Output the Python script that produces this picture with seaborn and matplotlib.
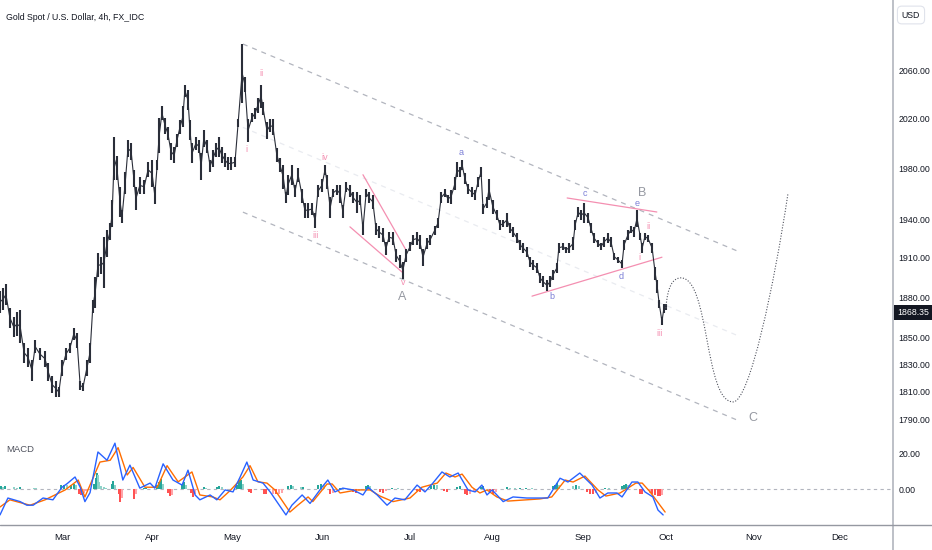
import numpy as np
import matplotlib
matplotlib.use("Agg")
import matplotlib.pyplot as plt
import seaborn as sns
from matplotlib.lines import Line2D
from matplotlib.path import Path
from matplotlib.patches import PathPatch
from matplotlib.ticker import NullLocator

# ---------------- data (x = trading-day index, 0 = 1 Feb 2023) ----------------
bar_day = [4.3,5.1,5.8,6.8,7.8,8.6,9.4,10.4,11.4,12.4,13.2,14.4,15.7,16.5,17.5,18.5,19.2,20.0,21.0,22.0,
           23.0,23.8,24.6,25.3,26.3,27.1,27.8,28.4,29.1,29.9,30.6,31.4,32.2,32.7,33.2,33.9,34.7,35.2,36.0,36.7,
           37.5,38.2,38.7,39.7,40.8,41.8,42.8,43.5,44.1,44.6,45.3,46.1,46.8,47.6,48.4,49.1,49.9,50.6,51.1,51.9,
           52.4,52.9,53.9,54.7,55.2,55.9,56.7,57.5,58.2,59.0,59.7,60.5,61.3,62.0,62.8,63.8,64.6,65.6,66.3,67.1,
           68.1,68.9,69.6,70.4,70.9,71.9,72.7,73.4,74.4,75.2,76.0,76.7,77.2,78.2,79.0,79.8,80.8,81.5,82.3,83.3,
           84.1,84.8,85.8,86.6,87.1,87.9,88.6,89.6,90.4,91.1,91.9,92.9,93.7,94.7,95.5,96.2,97.0,97.7,98.7,99.5,
           100.3,101.3,102.0,102.8,103.8,104.6,105.6,106.3,107.1,108.1,108.9,109.9,110.6,111.4,112.4,113.2,114.4,115.2,116.0,117.0,
           117.7,118.5,119.5,120.0,120.8,121.3,122.0,122.8,123.8,124.6,125.3,126.1,126.6,127.6,128.1,129.1,130.1,130.9,131.7,132.7,
           133.4,134.2,135.2,136.0,136.7,137.7,138.5,139.3,140.3,141.0,141.8,142.8,143.6,144.3,145.3,145.8,146.9,147.6,148.4,149.4,
           149.9,150.7,151.4,152.2,153.2,153.9,154.7,155.7,156.5,157.2,158.2,159.0,159.8,160.8,161.8,162.3,163.3,164.1,164.8,165.6,
           166.4,166.9,167.6,168.4,169.4,170.2,170.7,171.2,171.9,172.4,172.9]
bar_high = [1885,1887,1890,1872,1865,1868.5,1870,1846,1842,1833,1848,1842,1840,1831,1821,1818,1813,1833,1842,1846,
            1857,1853,1818,1816,1833,1846,1878,1895,1914,1911,1926,1931.5,1937,1955,2005,1990,1965,1947,1977,2003,
            2000,1979,1965,1973,1971,1985,1987,1965,1987,2021,2030,2021,2013,2000,1997,2008,2019,2030,2048,2043.5,
            2019,2000,2005,2003,1992,2011,2003,1987,1995,2000,2005,1997,1992,1989,1989,1989,2020,2082,2054,2020,
            2025,2029,2037,2048,2034,2017,2020,2020,1996,1988,1983,1961,1975,1983,1967,1980,1964,1953,1953,1953,
            1945,1967,1972,1983,1975,1957,1964,1967,1967,1951,1969,1967,1961,1961,1959,1937,1964,1961,1959,1937,
            1935,1933,1922,1930,1930,1917,1912,1907,1917,1922,1928,1930,1928,1917,1925,1928,1935,1941,1961,1964,
            1959,1963,1973,1985,1981,1987,1976,1968,1965,1963,1973,1981,1952,1957,1972,1955,1947,1939,1939,1945,
            1937,1934,1929,1924,1921.5,1918.5,1910.5,1908,1906,1898.5,1896,1893,1896,1901,1906,1921.5,1921.5,1918.5,1921.5,1926,
            1939,1949.5,1947,1953,1945,1937,1929,1924,1921.5,1926,1929,1926,1914,1910.5,1908,1924,1931.5,1935,1934,1947,
            1929,1921.5,1929,1927.5,1921.5,1903,1893,1878,1865,1875,1875]
bar_low = [1868,1870,1874,1857,1850,1851,1846,1831,1828,1818,1838,1833,1828,1818,1809,1806,1806,1821,1833,1838,
           1848,1842,1811,1810,1821,1831,1868,1872,1895,1898,1887,1911,1924,1934,1971,1971,1942,1937,1960,1989,
           1987,1965,1947,1960,1960,1973,1965,1952,1979,1992,2019,2008,2003,1987,1984,1997,2008,2013,2038,2027,
           2003,1984,1995,1992,1971,1997,1992,1977,1981,1989,1989,1984,1981,1979,1979,1981,2013,2033,2042,2001,
           2017,2020,2025,2029,2023,2004,2009,2007,1985,1977,1964,1953,1959,1967,1957,1969,1953,1941,1941,1943,
           1933,1957,1961,1975,1964,1941,1957,1959,1953,1941,1961,1957,1953,1945,1951,1928,1957,1953,1948,1928,
           1925,1922,1912,1922,1920,1907,1902,1894,1907,1915,1920,1920,1917,1904,1917,1920,1928,1933,1953,1957,
           1953,1952,1963,1973,1973,1979,1968,1960,1957,1955,1965,1973,1944,1949,1955,1944,1939,1931.5,1934,1934,
           1929,1926,1921.5,1916,1914,1910.5,1903,1901,1898.5,1891,1887.5,1885,1887.5,1893,1898.5,1914,1916,1914,1914,1916,
           1931.5,1941.5,1939,1937,1937,1929,1921.5,1918.5,1916,1918.5,1921.5,1918.5,1908,1906,1902.5,1916,1924,1929,1926,1934,
           1924,1914,1924,1922,1914,1893,1883,1872,1859,1868,1870]
last_price = 1868.35

macd_day = [4.3,6.3,9.4,11.1,12.7,15.2,17.7,20.0,21.3,23.3,24.6,25.8,27.1,29.1,31.4,33.4,35.4,37.2,39.7,42.3,
            43.5,45.6,48.1,50.4,51.9,53.7,54.9,57.5,59.2,61.3,63.3,65.1,66.8,68.4,70.9,72.7,74.7,76.7,78.2,80.8,
            82.8,85.8,87.3,89.1,91.1,93.7,96.2,97.5,99.8,102.3,104.3,106.8,109.9,111.9,113.9,116.2,118.2,120.3,122.8,124.6,
            126.3,127.6,128.9,131.7,134.2,137.7,140.5,143.0,146.1,148.1,151.1,154.2,156.2,158.2,160.5,161.8,164.3,165.8,167.6,169.6,
            170.9,172.2]
macd_val = [-14.4,-5,-7,-9,-9,-5,-6,1,3,6.7,1,-7,-2,20.6,16,25.5,5,13.3,0.5,3.3,
            0.5,14,5,2.2,10.5,-3.3,-6,-3.3,-6,-0.5,-1.6,6.7,15,5,3.3,-1.6,-8,-14.4,-9,-3.3,
            -8,1,5,-1.6,0.5,-0.5,-3.3,1,-3.3,-9,-5,-6,2.2,-1.6,3.3,9.5,6.7,8.9,-0.5,-1.6,
            2.2,-3.3,-0.5,-7,-4.4,-5,-5,-5,6,3.9,8.9,2.2,-5,-2.2,-2.2,-4.4,3.9,3.9,-1.6,-4.4,
            -11.7,-14.4]
signal_day = [4.3,6.8,11.9,15.7,20.8,24.1,25.8,29.6,32.2,34.2,36.5,38.0,41.0,44.1,46.6,49.4,52.9,54.9,58.2,60.0,
              62.5,65.8,67.6,69.6,71.9,73.9,77.7,79.7,82.3,83.5,87.1,88.4,90.4,94.7,98.0,100.5,103.8,108.1,111.1,115.0,
              117.2,119.5,121.3,123.8,125.8,127.6,130.1,132.9,141.0,144.0,147.4,149.4,152.4,155.7,157.7,161.3,165.3,166.9,168.9,171.4,
              172.7]
signal_val = [-10,-6,-9,-6,-0.5,5,-4.4,15,16,23,7.8,12,1,1,13,4,9.5,-3.3,-4.4,-6,
              -1,6.7,13,4,3.3,-0.5,-12.8,-9,-4.4,-7,2.8,2.8,-2.2,-0.5,-0.5,-3.9,-7,-5,1,3.3,
              8.9,6.7,8.3,1,-2.2,-0.5,-4.4,-6.7,-5.5,-4.4,5,3.9,7.2,-0.5,-3.9,-2.2,3.3,3.3,-1.6,-9,
              -12.8]
hist_day = [4.6,5.1,5.6,7.8,8.6,9.4,12.9,13.4,19.7,20.5,21.3,22.3,23.0,23.5,24.3,24.8,25.6,26.1,
            28.1,28.6,28.9,29.1,29.4,29.9,30.6,31.1,32.7,32.9,33.4,34.4,34.7,35.2,38.2,38.7,40.8,41.3,
            44.1,44.6,45.1,45.6,46.8,47.3,47.8,50.4,50.9,51.4,52.7,53.2,53.7,55.9,56.5,59.2,59.7,60.5,
            64.3,64.8,65.3,65.8,67.3,67.9,71.1,71.6,73.4,74.2,75.0,75.7,77.2,78.0,78.5,80.5,81.0,
            84.8,85.6,86.3,87.9,88.6,90.4,91.7,93.7,94.4,95.2,97.0,97.5,98.0,100.5,101.3,102.0,103.6,105.1,
            109.9,110.6,111.7,113.4,114.2,115.0,116.7,117.5,120.0,120.8,122.0,122.5,123.3,124.3,126.1,126.6,
            128.4,129.1,129.9,132.7,133.4,134.7,136.0,137.5,139.0,144.3,144.8,145.3,145.8,149.4,150.1,150.9,
            152.9,153.7,154.4,155.2,157.5,158.5,161.8,162.3,162.8,163.3,166.4,166.9,
            168.9,169.4,170.2,170.9,171.4,171.9]
hist_val = [1.5,1.0,1.5,1.0,0.8,1.0,0.8,0.6,2.0,2.5,2.0,2.5,3.0,2.0,-2.5,-3.5,-2.0,-1.0,
            3.0,6.0,9.0,8.0,4.0,1.5,1.0,0.6,3.0,4.5,2.5,-3.0,-7.0,-5.0,-5.5,-3.0,0.8,0.8,
            2.0,4.0,5.5,3.0,-2.0,-4.0,-3.5,2.5,4.0,2.0,-2.0,-4.5,-3.0,1.0,0.8,1.0,1.5,1.0,
            2.5,4.5,5.0,3.0,-1.5,-2.0,-2.5,-3.0,-2.5,-3.0,-2.5,-2.0,1.5,2.5,1.5,1.0,1.2,
            2.0,3.0,2.5,-2.5,-2.0,0.8,0.6,-1.5,-2.0,-1.0,1.5,2.5,1.5,-1.5,-2.0,-1.0,0.6,0.5,
            -1.0,-1.5,-1.0,1.5,2.5,2.0,-1.0,-1.5,1.0,1.5,-2.5,-3.5,-3.0,-1.5,1.0,1.5,
            -1.5,-2.5,-1.5,1.0,0.8,0.5,0.5,0.5,0.4,1.5,2.5,3.5,2.0,1.5,2.5,1.5,
            -1.5,-2.5,-3.0,-2.0,0.6,0.5,1.5,2.5,3.0,2.0,-2.5,-3.0,
            -2.0,-3.0,-3.5,-4.0,-4.0,-3.5]

# channel (upper, middle, lower) end points: (day, price)
chan_day = [65.8, 191.6]
chan_upper = [2081.7, 1914.5]
chan_mid = [2013.0, 1850.5]
chan_lower = [1945.5, 1788.5]
# pink trend lines
wedge_day_up, wedge_up = [96.2, 107.1], [1975.0, 1916.0]
wedge_day_lo, wedge_lo = [92.9, 106.3], [1934.0, 1898.6]
tri_day_up, tri_up = [147.9, 170.6], [1956.6, 1945.6]
tri_day_lo, tri_lo = [139.0, 171.9], [1880.8, 1910.5]
# projected path anchors
proj_day = [172.9, 176.7, 189.9, 203.8]
proj_price = [1871.7, 1894.7, 1802.4, 1960.0]

# wave labels: (text, day, price, kind)
wave_labels = [
    ("i", 66.8, 1995.0, "pink"), ("ii", 70.6, 2057.0, "pink"), ("iii", 84.1, 1927.0, "pink"),
    ("iv", 86.6, 1988.5, "pink"), ("v", 106.3, 1891.0, "pink"), ("A", 106.1, 1880.5, "gray"),
    ("a", 121.0, 1992.6, "blue"), ("b", 144.1, 1880.5, "blue"), ("c", 152.4, 1960.0, "blue"),
    ("d", 161.5, 1896.0, "blue"), ("e", 165.6, 1952.6, "blue"), ("B", 166.8, 1960.5, "gray"),
    ("ii", 168.4, 1934.0, "pink"), ("i", 166.3, 1910.5, "pink"), ("iii", 171.4, 1853.0, "pink"),
    ("C", 195.0, 1791.0, "gray"),
]
price_ticks = [1790, 1810, 1830, 1850, 1880, 1910, 1940, 1980, 2020, 2060]
macd_ticks = [0, 20]
month_pos = [20, 43, 63, 86, 108, 129, 152, 173, 195, 217]
month_lab = ["Mar", "Apr", "May", "Jun", "Jul", "Aug", "Sep", "Oct", "Nov", "Dec"]

# ---------------- style ----------------
sns.set_theme(style="white")
FONT = ['Liberation Sans', 'DejaVu Sans']
plt.rcParams['font.family'] = FONT
TXT = '#131722'
PINK = '#f48fb1'
BLUE = '#7b7fd6'
GRAYL = '#9598a1'
BARC = '#2a2e39'
AXFS = 6.3

W, H = 932, 550
fig = plt.figure(figsize=(W / 100, H / 100), dpi=100)
fig.patch.set_facecolor('white')

def fx(px):
    return px / W

def fy(py):
    return 1 - py / H

XL = (4.3, 230.4)
ax = fig.add_axes([0, fy(433), fx(893), 433 / H])
axm = fig.add_axes([0, fy(525), fx(893), (525 - 434) / H], sharex=ax)

# ---------------- price panel ----------------
ax.set_yscale('log')
ax.set_xlim(*XL)
ax.set_ylim(1780.0, 2118.9)
mid = [(h + l) / 2 for h, l in zip(bar_high, bar_low)]
ax.plot(bar_day, mid, color=BARC, lw=0.8, zorder=3)
ax.vlines(bar_day, bar_low, bar_high, colors=BARC, lw=1.5, zorder=3)

ax.plot(chan_day, chan_upper, color='#b2b5be', lw=0.9, ls=(0, (4, 4)), zorder=2)
ax.plot(chan_day, chan_lower, color='#b2b5be', lw=0.9, ls=(0, (4, 4)), zorder=2)
ax.plot(chan_day, chan_mid, color='#e9ebf0', lw=0.9, ls=(0, (4, 4)), zorder=1)
for dx, py in [(wedge_day_up, wedge_up), (wedge_day_lo, wedge_lo), (tri_day_up, tri_up), (tri_day_lo, tri_lo)]:
    ax.plot(dx, py, color=PINK, lw=0.9, zorder=2)

d0, d1, d2, d3 = proj_day
p0, p1, p2, p3 = proj_price
verts = [(d0, p0),
         (d0 + 0.1 * (d1 - d0), p0 + 0.7 * (p1 - p0)), (d0 + 0.45 * (d1 - d0), p1), (d1, p1),
         (d1 + 0.55 * (d2 - d1), p1), (d2 - 0.55 * (d2 - d1), p2), (d2, p2),
         (d2 + 0.3 * (d3 - d2), p2), (d3 - 0.25 * (d3 - d2), p2 + 0.55 * (p3 - p2)), (d3, p3)]
codes = [Path.MOVETO] + [Path.CURVE4] * 9
ax.add_patch(PathPatch(Path(verts, codes), fill=False, ec='#50535e', lw=0.8,
                       ls=(0, (1, 1.5)), zorder=3))

colmap = {"pink": PINK, "blue": BLUE, "gray": GRAYL}
for t, dd, pp, kind in wave_labels:
    ax.text(dd, pp, t, color=colmap[kind], fontsize=9 if kind == "gray" else 6.5,
            ha='center', va='center', zorder=4)

ax.yaxis.tick_right()
ax.set_yticks(price_ticks)
ax.set_yticklabels([f"{t:.2f}" for t in price_ticks])
ax.yaxis.set_minor_locator(NullLocator())
ax.tick_params(axis='y', length=0, pad=4, labelsize=AXFS, labelcolor=TXT)
ax.tick_params(axis='x', bottom=False, labelbottom=False)
for s in ax.spines.values():
    s.set_visible(False)
ax.annotate(f"{last_price:.2f}", xy=(1.0, last_price), xycoords=('axes fraction', 'data'),
            xytext=(3.2, 0), textcoords='offset points', ha='left', va='center',
            color='white', fontsize=AXFS, annotation_clip=False,
            bbox=dict(boxstyle='square,pad=0.35', fc='#131722', ec='none'))

# ---------------- MACD panel ----------------
axm.set_ylim(-20, 30.6)
axm.axhline(0, color='#b2b5be', lw=0.8, ls=(0, (3, 3)), zorder=0)
hcols = []
for i, v in enumerate(hist_val):
    prev = hist_val[i - 1] if i > 0 else 0
    if v >= 0:
        hcols.append('#26a69a' if v >= prev else '#8fd3c9')
    else:
        hcols.append('#ff5252' if v <= prev else '#ffa3a8')
axm.bar(hist_day, hist_val, width=0.5, color=hcols, edgecolor='none', linewidth=0, zorder=1)
sns.lineplot(x=macd_day, y=macd_val, ax=axm, color='#2962ff', lw=1.0, legend=False, zorder=3)
sns.lineplot(x=signal_day, y=signal_val, ax=axm, color='#ff6d00', lw=1.0, legend=False, zorder=2)
axm.yaxis.tick_right()
axm.set_yticks(macd_ticks)
axm.set_yticklabels([f"{t:.2f}" for t in macd_ticks])
axm.yaxis.set_minor_locator(NullLocator())
axm.tick_params(axis='y', length=0, pad=4, labelsize=AXFS, labelcolor=TXT)
axm.set_xticks(month_pos)
axm.set_xticklabels(month_lab)
axm.tick_params(axis='x', length=0, pad=6, labelsize=6.8, labelcolor=TXT)
axm.set_xlim(*XL)
for s in axm.spines.values():
    s.set_visible(False)

# ---------------- frame, texts ----------------
fig.add_artist(Line2D([fx(893), fx(893)], [0, 1], transform=fig.transFigure, color='#b2b5be', lw=1.2))
fig.add_artist(Line2D([0, 1], [fy(525), fy(525)], transform=fig.transFigure, color='#9598a1', lw=1.0))
fig.text(fx(6), fy(18), "Gold Spot / U.S. Dollar, 4h, FX_IDC", fontsize=6.3, color=TXT, ha='left', va='center')
fig.text(fx(6), fy(450), "MACD", fontsize=6.8, color='#50535e', ha='left', va='center')
fig.text(fx(911), fy(15), "USD", fontsize=6.3, color=TXT, ha='center', va='center',
         bbox=dict(boxstyle='round,pad=0.5', fc='white', ec='#e0e3eb', lw=0.8))

fig.savefig("out.png", dpi=100, facecolor='white')
